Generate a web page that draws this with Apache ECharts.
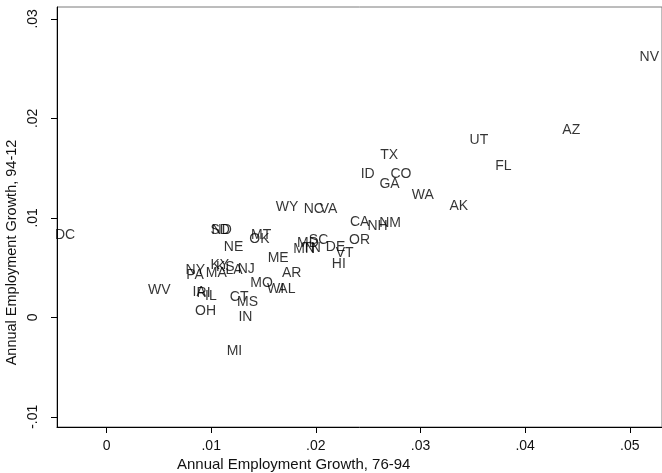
<!DOCTYPE html>
<html>
<head>
<meta charset="utf-8">
<script src="https://cdn.jsdelivr.net/npm/echarts@6/dist/echarts.min.js"></script>
<style>
  html, body { margin: 0; padding: 0; background: #fff; }
  #chart { width: 662px; height: 473px; }
</style>
</head>
<body>
<div id="chart"></div>
<script>
// State labels and their values (growth 76-94 on x, growth 94-12 on y)
const states = ["NV","AZ","UT","FL","TX","ID","CO","GA","WA","AK",
                "WY","NC","VA","CA","NH","NM","OR","MD","SC","MN",
                "TN","DE","VT","HI","ME","AR","MO","WI","AL","MS",
                "CT","IN","MI","OH","IL","RI","IA","WV","NY","PA",
                "MA","KY","KS","LA","NJ","NE","SD","ND","MT","OK","DC"];
const growth7694 = [0.05079,0.04341,0.03455,0.03700,0.02601,0.02414,0.02698,0.02593,0.02903,0.03262,
                    0.01603,0.01870,0.02022,0.02312,0.02479,0.02591,0.02303,0.01806,0.01919,0.01770,
                    0.01855,0.02081,0.02176,0.02138,0.01525,0.01662,0.01360,0.01519,0.01627,0.01233,
                    0.01164,0.01246,0.01134,0.00831,0.00927,0.00846,0.00808,0.00382,0.00741,0.00748,
                    0.00934,0.00979,0.01031,0.01122,0.01239,0.01106,0.00979,0.00989,0.01367,0.01350,-0.00507];
const growth9412 = [0.02612,0.01886,0.01782,0.01521,0.01629,0.01437,0.01440,0.01335,0.01226,0.01119,
                    0.01109,0.01084,0.01084,0.00958,0.00921,0.00949,0.00775,0.00747,0.00780,0.00690,
                    0.00697,0.00707,0.00646,0.00536,0.00598,0.00447,0.00341,0.00284,0.00284,0.00151,
                    0.00203,0.00003,-0.00337,0.00063,0.00209,0.00244,0.00249,0.00269,0.00478,0.00420,
                    0.00443,0.00521,0.00501,0.00475,0.00488,0.00705,0.00873,0.00873,0.00827,0.00784,0.00824];
const xTicks = [0, 0.01, 0.02, 0.03, 0.04, 0.05];
const yTicks = [-0.01, 0, 0.01, 0.02, 0.03];
const xTitle = "Annual Employment Growth, 76-94";
const yTitle = "Annual Employment Growth, 94-12";

const FONT = "'Liberation Sans', Arial, sans-serif";
const TXT = "#111";

function fmt(v) {
  if (Math.abs(v) < 1e-12) return "0";
  return v.toFixed(2).replace("0.", ".");
}

const points = states.map((s, i) => ({ name: s, value: [growth7694[i], growth9412[i]] }));

const chart = echarts.init(document.getElementById("chart"), null, { renderer: "canvas" });
chart.setOption({
  animation: false,
  backgroundColor: "#fff",
  grid: { left: 57, top: 7, right: -2, bottom: 46, show: true, borderColor: "#7a7a7a", borderWidth: 1 },
  xAxis: {
    type: "value",
    min: -0.004733, max: 0.053076,
    splitLine: { show: false },
    axisLine: { show: true, onZero: false, lineStyle: { color: "#000", width: 1 } },
    axisTick: { show: true, customValues: xTicks, length: 6, lineStyle: { color: "#000" } },
    axisLabel: { customValues: xTicks, formatter: fmt, margin: 12, fontFamily: FONT, fontSize: 14, color: TXT }
  },
  yAxis: {
    type: "value",
    min: -0.011027, max: 0.031193,
    splitLine: { show: false },
    axisLine: { show: true, onZero: false, lineStyle: { color: "#000", width: 1 } },
    axisTick: { show: true, customValues: yTicks, length: 6, lineStyle: { color: "#000" } },
    axisLabel: { customValues: yTicks, formatter: fmt, rotate: 90, margin: 17, fontFamily: FONT, fontSize: 14, color: TXT }
  },
  series: [{
    type: "scatter",
    clip: false,
    silent: true,
    symbol: "circle",
    symbolSize: 1,
    itemStyle: { color: "rgba(0,0,0,0)" },
    data: points,
    label: {
      show: true,
      position: "right",
      distance: 1,
      formatter: p => p.name,
      fontFamily: FONT,
      fontSize: 14,
      color: "#000"
    },
    labelLayout: { hideOverlap: false }
  }],
  graphic: [
    { type: "text", x: 293.7, y: 465, silent: true,
      style: { text: xTitle, font: "15px " + FONT, fill: TXT, align: "center", verticalAlign: "middle", textAlign: "center", textVerticalAlign: "middle" } },
    { type: "text", x: 12, y: 252.5, rotation: Math.PI / 2, silent: true,
      style: { text: yTitle, font: "14.5px " + FONT, fill: TXT, align: "center", verticalAlign: "middle", textAlign: "center", textVerticalAlign: "middle" } }
  ]
});
</script>
</body>
</html>
